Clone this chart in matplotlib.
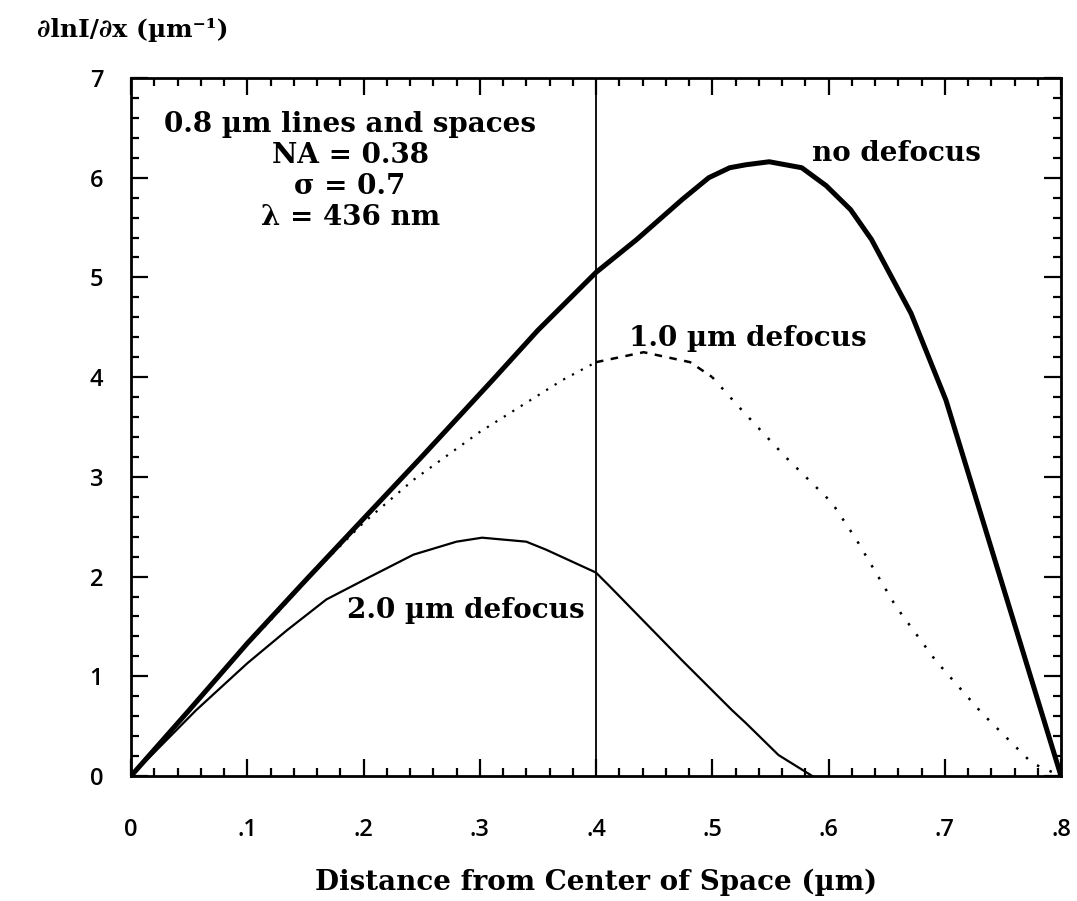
import numpy as np
import matplotlib
matplotlib.use("Agg")
import matplotlib.pyplot as plt

# ---- data ----
no_x = [0, 0.05, 0.1, 0.15, 0.2, 0.25, 0.311, 0.35, 0.4, 0.435, 0.474, 0.497, 0.515,
        0.529, 0.549, 0.577, 0.598, 0.619, 0.637, 0.671, 0.701, 0.8]
no_y = [0, 0.66, 1.33, 1.96, 2.58, 3.2, 3.97, 4.47, 5.05, 5.38, 5.78, 6.0, 6.1,
        6.13, 6.16, 6.1, 5.92, 5.68, 5.38, 4.64, 3.77, 0]

one_x = [0, 0.05, 0.1, 0.12, 0.157, 0.2, 0.243, 0.3, 0.371, 0.4, 0.441, 0.481, 0.5,
         0.523, 0.563, 0.603, 0.624, 0.658, 0.692, 0.732, 0.775, 0.8]
one_y = [0, 0.66, 1.32, 1.56, 2.04, 2.54, 2.97, 3.45, 3.97, 4.15, 4.25, 4.15, 4.0,
         3.70, 3.2, 2.74, 2.37, 1.70, 1.16, 0.63, 0.13, 0]

two_x = [0, 0.028, 0.056, 0.1, 0.134, 0.168, 0.206, 0.243, 0.28, 0.302, 0.34, 0.357,
         0.4, 0.412, 0.474, 0.517, 0.529, 0.557, 0.586]
two_y = [0, 0.33, 0.66, 1.13, 1.46, 1.77, 2.0, 2.22, 2.35, 2.39, 2.35, 2.27,
         2.04, 1.90, 1.16, 0.66, 0.53, 0.21, 0]

x_ticks = [0, 0.1, 0.2, 0.3, 0.4, 0.5, 0.6, 0.7, 0.8]
x_tick_labels = ["0", ".1", ".2", ".3", ".4", ".5", ".6", ".7", ".8"]
y_ticks = [0, 1, 2, 3, 4, 5, 6, 7]
y_tick_labels = ["0", "1", "2", "3", "4", "5", "6", "7"]

info_lines = ["0.8 µm lines and spaces", "NA = 0.38", "σ = 0.7", "λ = 436 nm"]
curve_labels = ["no defocus", "1.0 µm defocus", "2.0 µm defocus"]

# ---- figure ----
fig = plt.figure(figsize=(10.77, 9.01), dpi=100)
ax = fig.add_axes([131/1077, 1-776/901, (1061-131)/1077, (776-78)/901])

serif = dict(family="DejaVu Serif", fontweight="bold")

ax.plot(no_x, no_y, color="black", lw=3.6, solid_joinstyle="round", zorder=3)

one_x = np.array(one_x); one_y = np.array(one_y)
def seg(a, b):
    m = (one_x >= a - 1e-9) & (one_x <= b + 1e-9)
    return one_x[m], one_y[m]
sx, sy = seg(0, 0.4)
ax.plot(sx, sy, color="black", lw=1.6, linestyle=(0, (1, 3.5)), zorder=2)
sx, sy = seg(0.4, 0.5)
ax.plot(sx, sy, color="black", lw=1.8, linestyle=(0, (3, 3)), zorder=2)
sx, sy = seg(0.5, 0.8)
ax.plot(sx, sy, color="black", lw=1.8, linestyle=(0, (1, 4.5)), zorder=2)

ax.plot(two_x, two_y, color="black", lw=1.6, zorder=2)

ax.axvline(0.4, color="black", lw=1.3, zorder=1)

ax.set_xlim(0, 0.8)
ax.set_ylim(0, 7)
ax.set_xticks(x_ticks)
ax.set_xticklabels(x_tick_labels)
ax.set_yticks(y_ticks)
ax.set_yticklabels(y_tick_labels)
ax.set_xticks(np.arange(0, 0.801, 0.02), minor=True)
ax.set_yticks(np.arange(0, 7.01, 0.2), minor=True)

ax.tick_params(which="both", direction="in", top=True, right=True, width=1.6, color="black")
ax.tick_params(which="major", length=12)
ax.tick_params(which="minor", length=6)
ax.tick_params(axis="x", which="major", pad=30)
ax.tick_params(axis="y", which="major", pad=20)
for lab in ax.get_xticklabels() + ax.get_yticklabels():
    lab.set_fontfamily("Open Sans")
    lab.set_fontweight("semibold")
    lab.set_fontsize(17)

for s in ax.spines.values():
    s.set_linewidth(2.0)

# info text
yy = [6.53, 6.22, 5.91, 5.60]
for t, y in zip(info_lines, yy):
    ax.text(0.1885, y, t, ha="center", va="center", fontsize=20, **serif)

ax.text(0.586, 6.24, curve_labels[0], ha="left", va="center", fontsize=20, **serif)
ax.text(0.428, 4.39, curve_labels[1], ha="left", va="center", fontsize=20, **serif)
ax.text(0.186, 1.66, curve_labels[2], ha="left", va="center", fontsize=20, **serif)

fig.text(596/1077, 1-882/901, "Distance from Center of Space (µm)", ha="center",
         va="center", fontsize=20, **serif)
fig.text(37/1077, 1-30/901, "∂lnI/∂x (µm⁻¹)", ha="left", va="center", fontsize=18, **serif)

fig.savefig("out.png", dpi=100)
